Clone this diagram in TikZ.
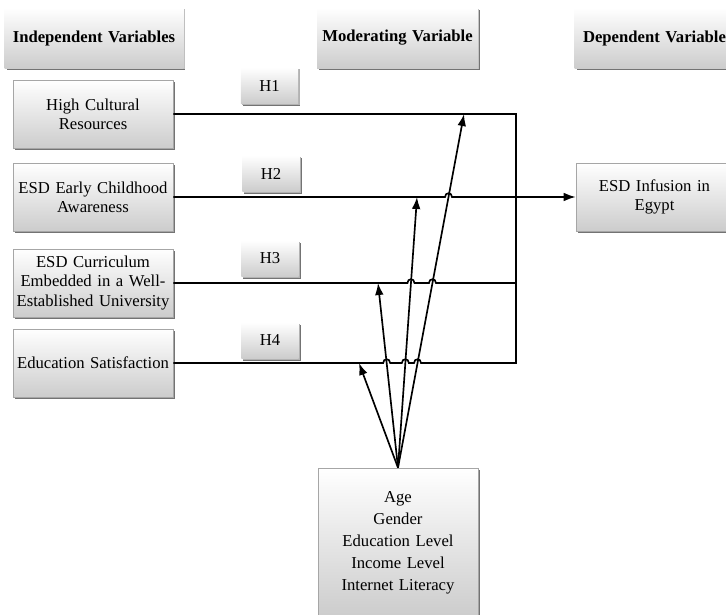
\documentclass[tikz,border=0pt]{standalone}
\usepackage{fontspec}
\setmainfont{Liberation Serif}
\usepackage{tikz}
\usetikzlibrary{calc,arrows.meta,shadows}
\newcommand{\BoxW}{120pt}
\newcommand{\BoxH}{51pt}
% small bump where a line jumps over an arrow
\newcommand{\HopR}[1]{-- ($(#1)+(-3.5,0)$) .. controls ($(#1)+(-3.5,-5)$) and ($(#1)+(3.5,-5)$) .. ($(#1)+(3.5,0)$)}
\newcommand{\HopL}[1]{-- ($(#1)+(3.5,0)$) .. controls ($(#1)+(3.5,-5)$) and ($(#1)+(-3.5,-5)$) .. ($(#1)+(-3.5,0)$)}
\tikzset{Box/.style={
    inner sep=2pt,
    text width=\BoxW-4pt,
    minimum width=\BoxW,
    minimum height=\BoxH,
    draw=gray!70, thin,
    top color=white, bottom color=black!20,
    align=center,
    drop shadow={shadow xshift=1.6pt, shadow yshift=-1.6pt, fill=black!55, opacity=1},
    }
}

\begin{document}
\begin{tikzpicture}[x=0.75pt, y=-0.75pt,
    font=\fontsize{12.5}{14.5}\selectfont,
    Head/.style={Box, draw=none, minimum height=45pt, font=\fontsize{12.5}{14.5}\selectfont\bfseries,
        drop shadow={shadow xshift=1pt, shadow yshift=-1pt, fill=black!25, opacity=1}},
    Hyp/.style={Box, draw=none, text width={}, minimum width=43pt, minimum height=27pt,
        drop shadow={shadow xshift=1pt, shadow yshift=-1pt, fill=black!30, opacity=1}},
    line/.style={draw=black, line width=1.25pt},
    arr/.style={draw=black, line width=1.25pt, -{Latex[length=9pt,width=6.5pt]}},
]
\useasboundingbox (0,0) rectangle (726,615);
% headings
\node [Head, minimum width=133.5pt, text width=130pt] (indep) at (94,38) {Independent Variables};
\node [Head, minimum width=120.75pt] (moder) at (397.5,38) {Moderating Variable};
\node [Head, minimum width=117.75pt] (depen) at (654.5,38) {Dependent Variable};
% independent variables
\node [Box] (b1) at (93,114) {High Cultural\\Resources};
\node [Box] (b2) at (93,197) {ESD Early Childhood\\Awareness};
\node [Box] (b3) at (93,283) {ESD Curriculum\\Embedded in a Well-\\Established University};
\node [Box] (b4) at (93,363) {Education Satisfaction};
% hypotheses
\node [Hyp] (h1) at (269.5,85.5) {H1};
\node [Hyp] (h2) at (271,173.5) {H2};
\node [Hyp] (h3) at (270,258.5) {H3};
\node [Hyp] (h4) at (270,340.5) {H4};
% dependent and moderating
\node [Box, minimum width=117.75pt, text width=110pt] (inf) at (654.5,197) {ESD Infusion in\\Egypt};
\node [Box, minimum width=118.5pt, minimum height=111.75pt, font=\fontsize{12.5}{16.5}\selectfont] (mod) at (398,542.5)
    {Age\\Gender\\Education Level\\Income Level\\Internet Literacy};
% bus and arrow tips
\coordinate (bus1) at (516,114);
\coordinate (bus3) at (b3.east -| bus1);
\coordinate (bus4) at (b4.east -| bus1);
\coordinate (t1) at (464,114);
\coordinate (t2) at (417,197);
\coordinate (t3) at (378,283);
\coordinate (t4) at (359,363);
% crossings
\coordinate (x21) at (intersection of mod.north--t1 and b2.east--inf.west);
\coordinate (x31) at (intersection of mod.north--t1 and b3.east--bus3);
\coordinate (x32) at (intersection of mod.north--t2 and b3.east--bus3);
\coordinate (x41) at (intersection of mod.north--t1 and b4.east--bus4);
\coordinate (x42) at (intersection of mod.north--t2 and b4.east--bus4);
\coordinate (x43) at (intersection of mod.north--t3 and b4.east--bus4);
% paths
\draw [line] (b1.east) -- (bus1) -- (bus4) \HopL{x41} \HopL{x42} \HopL{x43} -- (b4.east);
\draw [line] (b3.east) \HopR{x32} \HopR{x31} -- (bus3);
\draw [arr] (b2.east) \HopR{x21} -- (inf.west);
\foreach \t in {t1,t2,t3,t4}
    \draw [arr] (mod.north) -- (\t);
\end{tikzpicture}
\end{document}
